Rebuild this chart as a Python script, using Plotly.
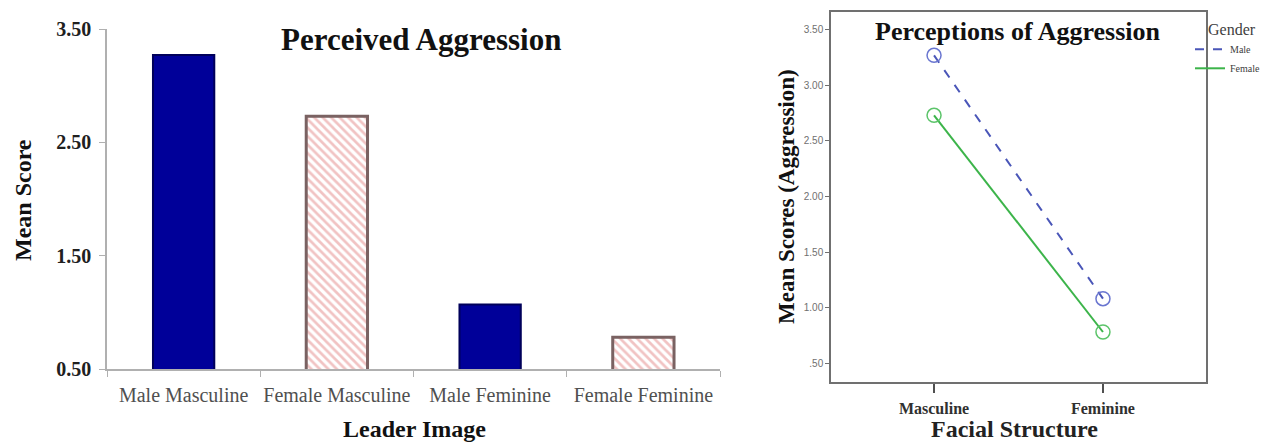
import plotly.graph_objects as go

W, H = 1268, 442

# ---- data ----
bar_categories = ["Male Masculine", "Female Masculine", "Male Feminine", "Female Feminine"]
bar_values = [3.27, 2.73, 1.07, 0.78]
bar_is_male = [True, False, True, False]

facial_structure = ["Masculine", "Feminine"]
male_scores = [3.27, 1.08]
female_scores = [2.73, 0.78]

left_yticks = [0.5, 1.5, 2.5, 3.5]
left_yticklabels = ["0.50", "1.50", "2.50", "3.50"]
right_yticks = [0.5, 1.0, 1.5, 2.0, 2.5, 3.0, 3.5]
right_yticklabels = [".50", "1.00", "1.50", "2.00", "2.50", "3.00", "3.50"]

SERIF = "Liberation Serif"
SANS = "Liberation Sans"

def px_x(x):
    return x / W

def px_y(y):
    return 1 - y / H

fig = go.Figure()

# ---- left: bar chart ----
male_x = [c for c, m in zip(bar_categories, bar_is_male) if m]
male_y = [v for v, m in zip(bar_values, bar_is_male) if m]
fem_x = [c for c, m in zip(bar_categories, bar_is_male) if not m]
fem_y = [v for v, m in zip(bar_values, bar_is_male) if not m]

fig.add_trace(go.Bar(
    x=male_x, y=male_y, xaxis="x", yaxis="y", width=0.4,
    marker=dict(color="#000099", line=dict(color="#00005a", width=2)),
    showlegend=False,
))
fig.add_trace(go.Bar(
    x=fem_x, y=fem_y, xaxis="x", yaxis="y", width=0.4,
    marker=dict(color="white", line=dict(color="#7a6262", width=3),
                pattern=dict(shape="\\", fgcolor="#e48888", bgcolor="white",
                             size=6, solidity=0.45)),
    showlegend=False,
))

# ---- right: line chart ----
fig.add_trace(go.Scatter(
    x=facial_structure, y=male_scores, xaxis="x2", yaxis="y2",
    mode="lines+markers",
    line=dict(color="#4a56b8", width=2, dash="dash"),
    marker=dict(symbol="circle-open", size=14, color="#6a76d0", line=dict(width=1.5)),
    showlegend=False,
))
fig.add_trace(go.Scatter(
    x=facial_structure, y=female_scores, xaxis="x2", yaxis="y2",
    mode="lines+markers",
    line=dict(color="#3cb44a", width=2),
    marker=dict(symbol="circle-open", size=14, color="#5cc46a", line=dict(width=1.5)),
    showlegend=False,
))
# legend entries (line only)
fig.add_trace(go.Scatter(
    x=[None], y=[None], xaxis="x2", yaxis="y2", mode="lines", name="Male",
    line=dict(color="#4a56b8", width=2, dash="dash"),
))
fig.add_trace(go.Scatter(
    x=[None], y=[None], xaxis="x2", yaxis="y2", mode="lines", name="Female",
    line=dict(color="#3cb44a", width=2),
))

fig.update_layout(
    width=W, height=H,
    margin=dict(l=0, r=0, t=0, b=0),
    paper_bgcolor="white", plot_bgcolor="white",
    xaxis=dict(
        domain=[px_x(107), px_x(720)], anchor="y", automargin=False,
        type="category", categoryorder="array", categoryarray=bar_categories,
        showline=True, linecolor="#b0b0b0", linewidth=1.5,
        ticks="outside", tickson="boundaries", ticklen=6, tickcolor="#b0b0b0",
        ticklabelstandoff=7, tickangle=0,
        tickfont=dict(family=SERIF, size=20, color="#505050"),
        showgrid=False, zeroline=False, fixedrange=True,
    ),
    yaxis=dict(
        domain=[px_y(369), px_y(29)], anchor="x", automargin=False,
        range=[0.5, 3.5],
        tickvals=left_yticks, ticktext=left_yticklabels,
        showline=True, linecolor="#b0b0b0", linewidth=1.5,
        ticks="outside", ticklen=6, tickcolor="#b0b0b0",
        ticklabelstandoff=4,
        tickfont=dict(family=SERIF, size=20, color="#202020", weight="bold"),
        showgrid=False, zeroline=False, fixedrange=True,
    ),
    xaxis2=dict(
        domain=[px_x(831), px_x(1206)], anchor="y2", automargin=False,
        type="category", range=[-0.61, 1.61],
        showline=True, mirror=True, linecolor="#707070", linewidth=1.5,
        ticks="outside", ticklen=9, tickcolor="#505050", tickwidth=1.5,
        ticklabelstandoff=2, tickangle=0,
        tickfont=dict(family=SERIF, size=16, color="#303030", weight="bold"),
        showgrid=False, zeroline=False, fixedrange=True,
    ),
    yaxis2=dict(
        domain=[px_y(382), px_y(12)], anchor="x2", automargin=False,
        range=[0.33, 3.66],
        tickvals=right_yticks, ticktext=right_yticklabels,
        showline=True, mirror=True, linecolor="#707070", linewidth=1.5,
        ticks="outside", ticklen=4, tickcolor="#707070",
        tickfont=dict(family=SANS, size=10, color="#707070"),
        showgrid=False, zeroline=False, fixedrange=True,
    ),
    legend=dict(
        x=px_x(1190), y=px_y(14), xanchor="left", yanchor="top",
        bgcolor="rgba(0,0,0,0)",
        title=dict(text="&nbsp;&nbsp;&nbsp;&nbsp;Gender",
                   font=dict(family=SERIF, size=16, color="#404040"), side="top"),
        font=dict(family=SERIF, size=10, color="#404040"),
        itemwidth=30, tracegroupgap=0,
    ),
    annotations=[
        dict(text="<b>Perceived Aggression</b>", x=px_x(421), y=px_y(39),
             xref="paper", yref="paper", showarrow=False,
             xanchor="center", yanchor="middle",
             font=dict(family=SERIF, size=31, color="#111")),
        dict(text="<b>Mean Score</b>", x=px_x(23), y=px_y(200),
             xref="paper", yref="paper", showarrow=False, textangle=-90,
             xanchor="center", yanchor="middle",
             font=dict(family=SERIF, size=24, color="#111")),
        dict(text="<b>Leader Image</b>", x=px_x(414), y=px_y(429),
             xref="paper", yref="paper", showarrow=False,
             xanchor="center", yanchor="middle",
             font=dict(family=SERIF, size=24, color="#111")),
        dict(text="<b>Perceptions of Aggression</b>", x=px_x(1018), y=px_y(32),
             xref="paper", yref="paper", showarrow=False,
             xanchor="center", yanchor="middle",
             font=dict(family=SERIF, size=26, color="#111")),
        dict(text="<b>Mean Scores (Aggression)</b>", x=px_x(786), y=px_y(197),
             xref="paper", yref="paper", showarrow=False, textangle=-90,
             xanchor="center", yanchor="middle",
             font=dict(family=SERIF, size=23, color="#111")),
        dict(text="<b>Facial Structure</b>", x=px_x(1014), y=px_y(429),
             xref="paper", yref="paper", showarrow=False,
             xanchor="center", yanchor="middle",
             font=dict(family=SERIF, size=24, color="#222")),
    ],
)

fig.write_html(
    "out.html", config={"displayModeBar": False},
    post_script=("document.body.style.margin='0';"
                 "document.body.style.overflow='hidden';"
                 "document.documentElement.style.overflow='hidden';"),
)
